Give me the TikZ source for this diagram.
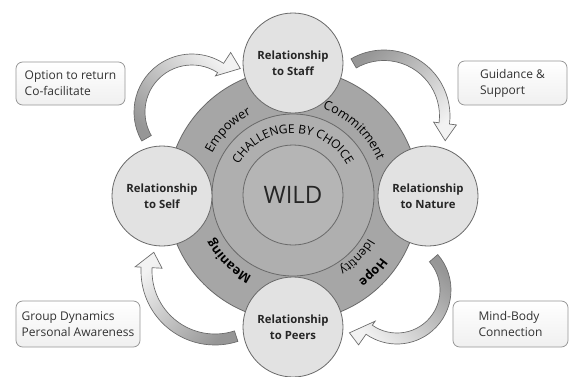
\documentclass[tikz,border=0pt]{standalone}
\usepackage{fontspec}
\setmainfont{Open Sans}
\usetikzlibrary{decorations.text}

\definecolor{ringdark}{RGB}{166,166,166}
\definecolor{ringmid}{RGB}{175,175,175}
\definecolor{ringcore}{RGB}{181,181,181}
\definecolor{satfill}{RGB}{226,226,226}
\definecolor{edgegray}{RGB}{105,105,105}
\definecolor{boxedge}{RGB}{150,150,150}
\definecolor{inkgray}{RGB}{50,50,50}
\definecolor{ribbondark}{RGB}{150,150,150}
\definecolor{ribbonlight}{RGB}{242,242,242}

\newcommand{\ringfont}{\fontsize{9.5}{11}\selectfont}

\tikzset{
  sat/.style={circle, draw=edgegray, fill=satfill, line width=0.6pt, minimum size=75pt, inner sep=0pt,
    align=center, text=black!85, font=\fontsize{8.5}{12}\selectfont\bfseries},
  ring/.style={circle, draw=edgegray, line width=0.6pt, inner sep=0pt},
  notebox/.style={draw=boxedge, rounded corners=5pt, top color=white, bottom color=black!6, line width=0.6pt,
    inner sep=0pt, align=left, text=inkgray, font=\fontsize{9}{12}\selectfont},
  ribbon/.style={draw=edgegray, line width=0.5pt, bottom color=ribbondark, top color=ribbonlight},
  ringword/.style={decorate, decoration={text along path, text align=center, text={#1}}}
}

\begin{document}
\begin{tikzpicture}[x=0.75pt,y=0.75pt,yscale=-1,xscale=1]
        \useasboundingbox (0,0) rectangle (569,376);
        \fill[white] (0,0) rectangle (569,376);

        % curved arrows between the four relationships
        \begin{scope}[shift={(192,112)}]
          \draw[ribbon, shading angle=-45] (150:58) arc (150:303:58) -- (303:71) -- (318:65) -- (303:43) -- (303:47) arc (303:150:47) -- cycle;
        \end{scope}
        \begin{scope}[shift={(384,116)}]
          \draw[ribbon, shading angle=-135] (240:66) arc (240:367:66) -- (367:73) -- (382:66) -- (367:50) -- (367:55.5) arc (367:240:55.5) -- cycle;
        \end{scope}
        \begin{scope}[shift={(397,290)}]
          \draw[ribbon, shading angle=135] (319:54) arc (319:485:54) -- (485:67) -- (498:64) -- (485:38) -- (485:43) arc (485:319:43) -- cycle;
        \end{scope}
        \begin{scope}[shift={(215,271)}]
          \draw[ribbon, shading angle=45] (72:74) arc (72:183:74) -- (183:80) -- (197:64) -- (183:53) -- (183:63) arc (183:72:63) -- cycle;
        \end{scope}

        % rings
        \node[ring, fill=ringdark, minimum size=189pt] (outer) at (293,195) {};
        \node[ring, fill=ringmid, minimum size=121.5pt] (middle) at (293,195) {};
        \node[ring, fill=ringcore, minimum size=75pt, text=black!85, font=\fontsize{18}{20}\selectfont] (wild) at (293,195) {WILD};

        \path[ringword={|\fontsize{9}{11}\selectfont|CHALLENGE BY CHOICE}] (wild.center) ++(180:62) arc (180:360:62);
        \path[ringword={|\ringfont|Empower}] (wild.center) ++(195:91) arc (195:255:91);
        \path[ringword={|\ringfont|Commitment}] (wild.center) ++(283:91) arc (283:344:91);
        \path[ringword={|\ringfont\bfseries|Hope}] (wild.center) ++(20:108) arc (20:68:108);
        \path[ringword={|\fontsize{9}{11}\selectfont|Identity}] (wild.center) ++(15:87) arc (15:73:87);
        \path[ringword={|\ringfont\bfseries|Meaning}] (wild.center) ++(105:91) arc (105:163:91);

        % relationships
        \node[sat] (staff) at (293,63) {Relationship\\to Staff};
        \node[sat] (nature) at (428,196) {Relationship\\to Nature};
        \node[sat] (peers) at (293,327) {Relationship\\to Peers};
        \node[sat] (self) at (162,196) {Relationship\\to Self};

        % notes
        \node[notebox, minimum width=81.75pt, minimum height=32.25pt] (option) at (70.5,83.5) {Option to return\\Co-facilitate};
        \node[notebox, minimum width=81.75pt, minimum height=33pt] (guidance) at (512.5,83) {Guidance \&\\Support};
        \node[notebox, minimum width=93pt, minimum height=34.5pt] (group) at (78,324) {Group Dynamics\\Personal Awareness};
        \node[notebox, minimum width=86.25pt, minimum height=34.5pt] (mindbody) at (510.5,324) {Mind-Body\\Connection};
\end{tikzpicture}
\end{document}
